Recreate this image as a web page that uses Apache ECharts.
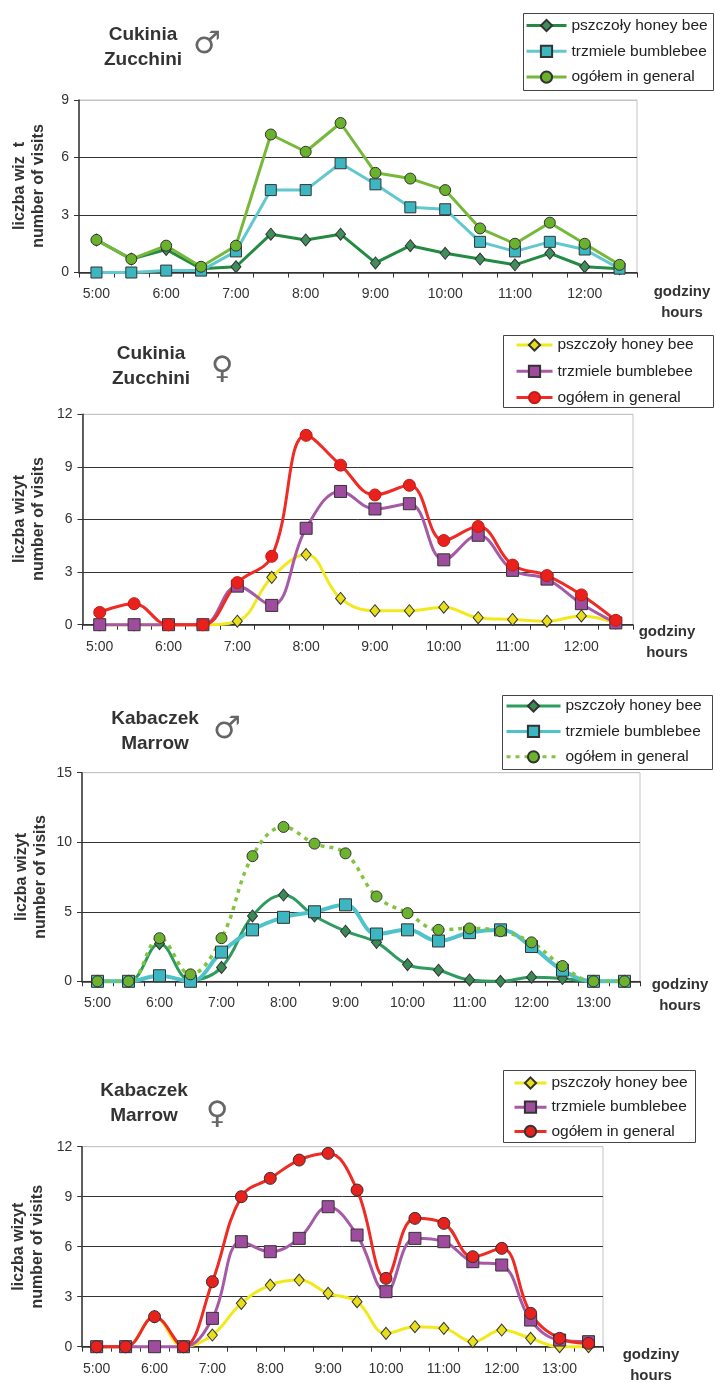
<!DOCTYPE html>
<html>
<head>
<meta charset="utf-8">
<script src="https://cdn.jsdelivr.net/npm/echarts@6/dist/echarts.min.js"></script>
<style>
html, body { margin: 0; padding: 0; background: #fff; }
.panel { position: absolute; left: 0; width: 715px; }
</style>
</head>
<body>
<div id="c1" class="panel" style="top:0;height:330px"></div>
<div id="c2" class="panel" style="top:330px;height:360px"></div>
<div id="c3" class="panel" style="top:690px;height:350px"></div>
<div id="c4" class="panel" style="top:1040px;height:343px"></div>
<script>
const FONT = 'Liberation Sans, Arial, sans-serif';
const names = ['pszczoły honey bee', 'trzmiele bumblebee', 'ogółem in general'];

// categories (half hours)
const hoursA = ['5:00', '5:30', '6:00', '6:30', '7:00', '7:30', '8:00', '8:30', '9:00', '9:30',
  '10:00', '10:30', '11:00', '11:30', '12:00', '12:30'];
const hoursB = ['5:00', '5:30', '6:00', '6:30', '7:00', '7:30', '8:00', '8:30', '9:00', '9:30',
  '10:00', '10:30', '11:00', '11:30', '12:00', '12:30', '13:00', '13:30'];

// Cukinia / Zucchini male
const honey1 = [1.7, 0.7, 1.2, 0.2, 0.3, 2.0, 1.7, 2.0, 0.5, 1.4, 1.0, 0.7, 0.4, 1.0, 0.3, 0.2];
const bumble1 = [0, 0, 0.1, 0.1, 1.1, 4.3, 4.3, 5.7, 4.6, 3.4, 3.3, 1.6, 1.1, 1.6, 1.2, 0.2];
const general1 = [1.7, 0.7, 1.4, 0.3, 1.4, 7.2, 6.3, 7.8, 5.2, 4.9, 4.3, 2.3, 1.5, 2.6, 1.5, 0.4];

// Cukinia / Zucchini female
const honey2 = [0, 0, 0, 0, 0.2, 2.7, 4.0, 1.5, 0.8, 0.8, 1.0, 0.4, 0.3, 0.2, 0.5, 0.1];
const bumble2 = [0, 0, 0, 0, 2.2, 1.1, 5.5, 7.6, 6.6, 6.9, 3.7, 5.1, 3.1, 2.6, 1.2, 0.1];
const general2 = [0.7, 1.2, 0, 0, 2.4, 3.9, 10.8, 9.1, 7.4, 7.95, 4.8, 5.6, 3.4, 2.8, 1.7, 0.25];

// Kabaczek / Marrow male
const honey3 = [0, 0, 2.7, 0.1, 1.0, 4.7, 6.2, 4.7, 3.6, 2.8, 1.2, 0.8, 0.1, 0, 0.3, 0.2, 0, 0];
const bumble3 = [0, 0, 0.4, 0, 2.1, 3.7, 4.6, 5.0, 5.5, 3.4, 3.7, 2.9, 3.5, 3.7, 2.5, 0.8, 0, 0];
const general3 = [0, 0, 3.1, 0.5, 3.1, 9.0, 11.1, 9.9, 9.2, 6.1, 4.9, 3.7, 3.8, 3.6, 2.8, 1.1, 0, 0];

// Kabaczek / Marrow female
const honey4 = [0, 0, 1.8, 0, 0.7, 2.6, 3.7, 4.0, 3.2, 2.7, 0.8, 1.2, 1.1, 0.3, 1.0, 0.5, 0, 0];
const bumble4 = [0, 0, 0, 0, 1.7, 6.3, 5.7, 6.5, 8.4, 6.7, 3.3, 6.5, 6.3, 5.1, 4.9, 1.6, 0.4, 0.3];
const general4 = [0, 0, 1.8, 0, 3.9, 9.0, 10.1, 11.2, 11.6, 9.4, 4.1, 7.7, 7.4, 5.4, 5.9, 2.0, 0.5, 0.2];

// y axis ticks
const yTicks1 = [0, 3, 6, 9];
const yTicks2 = [0, 3, 6, 9, 12];
const yTicks3 = [0, 5, 10, 15];
const yTicks4 = [0, 3, 6, 9, 12];

function lineSeries(name, data, smooth, line, sym) {
  return {
    name: name,
    type: 'line',
    data: data,
    smooth: smooth,
    clip: false,
    symbol: sym.shape,
    symbolSize: sym.size,
    lineStyle: line,
    itemStyle: { color: sym.fill, borderColor: sym.border, borderWidth: 1 },
    emphasis: { disabled: true }
  };
}

function drawPanel(id, top, p) {
  const chart = echarts.init(document.getElementById(id));
  const g = p.grid;
  const ticks = p.yTicks;
  const gridColors = ticks.map(function (v, i) {
    return i === ticks.length - 1 ? '#c4c4c4' : '#333';
  });
  const option = {
    animation: false,
    textStyle: { fontFamily: FONT },
    grid: {
      left: g[0], top: g[1] - top, width: g[2] - g[0], height: g[3] - g[1],
      show: true, borderColor: '#c4c4c4', borderWidth: 1, backgroundColor: '#fff',
      outerBoundsMode: 'none'
    },
    legend: {
      orient: 'vertical',
      left: p.legend.left,
      top: p.legend.top - top,
      padding: 0,
      itemWidth: p.legend.itemWidth,
      itemHeight: 14,
      itemGap: p.legend.itemGap,
      selectedMode: false,
      lineStyle: { width: 3 },
      textStyle: { fontSize: 15.5, color: '#222', fontFamily: FONT },
      data: names
    },
    xAxis: {
      type: 'category',
      data: p.hours,
      boundaryGap: true,
      axisLine: { show: true, lineStyle: { color: '#333', width: 1.5 } },
      axisTick: { show: true, interval: 0, length: 5, lineStyle: { color: '#333' } },
      axisLabel: { interval: 1, margin: 15, fontSize: 14, color: '#333', fontFamily: FONT },
      splitLine: { show: false }
    },
    yAxis: {
      type: 'value',
      min: ticks[0],
      max: ticks[ticks.length - 1],
      interval: ticks[1] - ticks[0],
      axisLine: { show: true, lineStyle: { color: '#333', width: 1.5 } },
      axisTick: { show: true, length: 5, lineStyle: { color: '#333' } },
      axisLabel: { margin: 10, fontSize: 14, color: '#333', fontFamily: FONT },
      splitLine: { show: true, lineStyle: { color: gridColors, width: 1 } }
    },
    series: p.series,
    graphic: [
      {
        type: 'rect', silent: true, z: -1,
        shape: { x: p.box[0] + 0.5, y: p.box[1] - top + 0.5, width: p.box[2] - p.box[0], height: p.box[3] - p.box[1] },
        style: { fill: '#fff', stroke: '#444', lineWidth: 1 }
      },
      {
        type: 'text', x: p.title[0], y: p.title[1] - top,
        style: { text: p.titleText, fontSize: 19, fontWeight: 'bold', fill: '#333', fontFamily: FONT,
          align: 'center', verticalAlign: 'middle', lineHeight: 25 }
      },
      {
        type: 'text', x: p.sex[0], y: p.sex[1] - top,
        style: { text: p.sexText, fontSize: 31, fill: '#666', fontFamily: 'DejaVu Sans',
          align: 'center', verticalAlign: 'middle' }
      },
      {
        type: 'text', x: p.yName[0], y: p.yName[1] - top, rotation: Math.PI / 2,
        style: { text: p.yNameText, fontSize: 16, fontWeight: 'bold', fill: '#333', fontFamily: FONT,
          align: 'center', verticalAlign: 'middle', lineHeight: 19 }
      },
      {
        type: 'text', x: p.xName[0], y: p.xName[1] - top,
        style: { text: 'godziny\nhours', fontSize: 15, fontWeight: 'bold', fill: '#333', fontFamily: FONT,
          align: 'center', verticalAlign: 'middle', lineHeight: 21 }
      }
    ]
  };
  chart.setOption(option);
}

// Cukinia male
drawPanel('c1', 0, {
  hours: hoursA, yTicks: yTicks1,
  grid: [79, 100, 637, 272.5],
  box: [523, 13, 713, 90],
  legend: { left: 525, top: 17.5, itemWidth: 40, itemGap: 9.8 },
  title: [143, 47.5], titleText: 'Cukinia\nZucchini',
  sex: [207, 45], sexText: '\u2642',
  yName: [29, 186], yNameText: 'liczba wiz  t\nnumber of visits',
  xName: [682, 302],
  series: [
    lineSeries(names[0], honey1, false, { color: '#238b42', width: 3 },
      { shape: 'diamond', size: [10, 12], fill: '#3f8f5c', border: '#333' }),
    lineSeries(names[1], bumble1, false, { color: '#62c8d0', width: 3 },
      { shape: 'rect', size: 11, fill: '#3cb7c1', border: '#333' }),
    lineSeries(names[2], general1, false, { color: '#76b83a', width: 3 },
      { shape: 'circle', size: 11, fill: '#6ab12c', border: '#333' })
  ]
});

// Cukinia female
drawPanel('c2', 330, {
  hours: hoursA, yTicks: yTicks2,
  grid: [82.5, 414.3, 633, 624.7],
  box: [503, 335, 713, 407],
  legend: { left: 515, top: 337, itemWidth: 36, itemGap: 10.3 },
  title: [151, 366], titleText: 'Cukinia\nZucchini',
  sex: [222, 370], sexText: '\u2640',
  yName: [29, 519], yNameText: 'liczba wizyt\nnumber of visits',
  xName: [667, 642],
  series: [
    lineSeries(names[0], honey2, 0.4, { color: '#f2e91c', width: 3 },
      { shape: 'diamond', size: [10, 12], fill: '#e8df1a', border: '#333' }),
    lineSeries(names[1], bumble2, 0.4, { color: '#a65aa6', width: 3 },
      { shape: 'rect', size: 12, fill: '#a04c9e', border: '#333' }),
    lineSeries(names[2], general2, 0.4, { color: '#ee2b24', width: 3 },
      { shape: 'circle', size: 12, fill: '#e8211c', border: '#c41a15' })
  ]
});

// Kabaczek male
drawPanel('c3', 690, {
  hours: hoursB, yTicks: yTicks3,
  grid: [82, 772.7, 640, 981.3],
  box: [502, 695, 712, 769],
  legend: { left: 505, top: 698, itemWidth: 54, itemGap: 9.4 },
  title: [155, 731], titleText: 'Kabaczek\nMarrow',
  sex: [227, 730], sexText: '\u2642',
  yName: [31, 877], yNameText: 'liczba wizyt\nnumber of visits',
  xName: [680, 995],
  series: [
    lineSeries(names[0], honey3, 0.4, { color: '#2f9b5e', width: 3 },
      { shape: 'diamond', size: [10, 12], fill: '#3a8a55', border: '#333' }),
    lineSeries(names[1], bumble3, 0.4, { color: '#4fc3cb', width: 4 },
      { shape: 'rect', size: 12, fill: '#3cb6c0', border: '#333' }),
    lineSeries(names[2], general3, 0.4, { color: '#82c341', width: 3.5, type: [4, 5] },
      { shape: 'circle', size: 11, fill: '#6cb22e', border: '#333' })
  ]
});

// Kabaczek female
drawPanel('c4', 1040, {
  hours: hoursB, yTicks: yTicks4,
  grid: [82.2, 1146.7, 603, 1346.7],
  box: [503, 1070, 695, 1142],
  legend: { left: 513, top: 1075, itemWidth: 32, itemGap: 8.2 },
  title: [144, 1103.7], titleText: 'Kabaczek\nMarrow',
  sex: [217, 1115], sexText: '\u2640',
  yName: [28, 1246.7], yNameText: 'liczba wizyt\nnumber of visits',
  xName: [651, 1365],
  series: [
    lineSeries(names[0], honey4, 0.4, { color: '#f2e91c', width: 3 },
      { shape: 'diamond', size: [10, 12], fill: '#e8df1a', border: '#333' }),
    lineSeries(names[1], bumble4, 0.4, { color: '#a65aa6', width: 3 },
      { shape: 'rect', size: 12, fill: '#a04c9e', border: '#333' }),
    lineSeries(names[2], general4, 0.4, { color: '#ee2b24', width: 3 },
      { shape: 'circle', size: 12, fill: '#e8211c', border: '#333' })
  ]
});
</script>
</body>
</html>
